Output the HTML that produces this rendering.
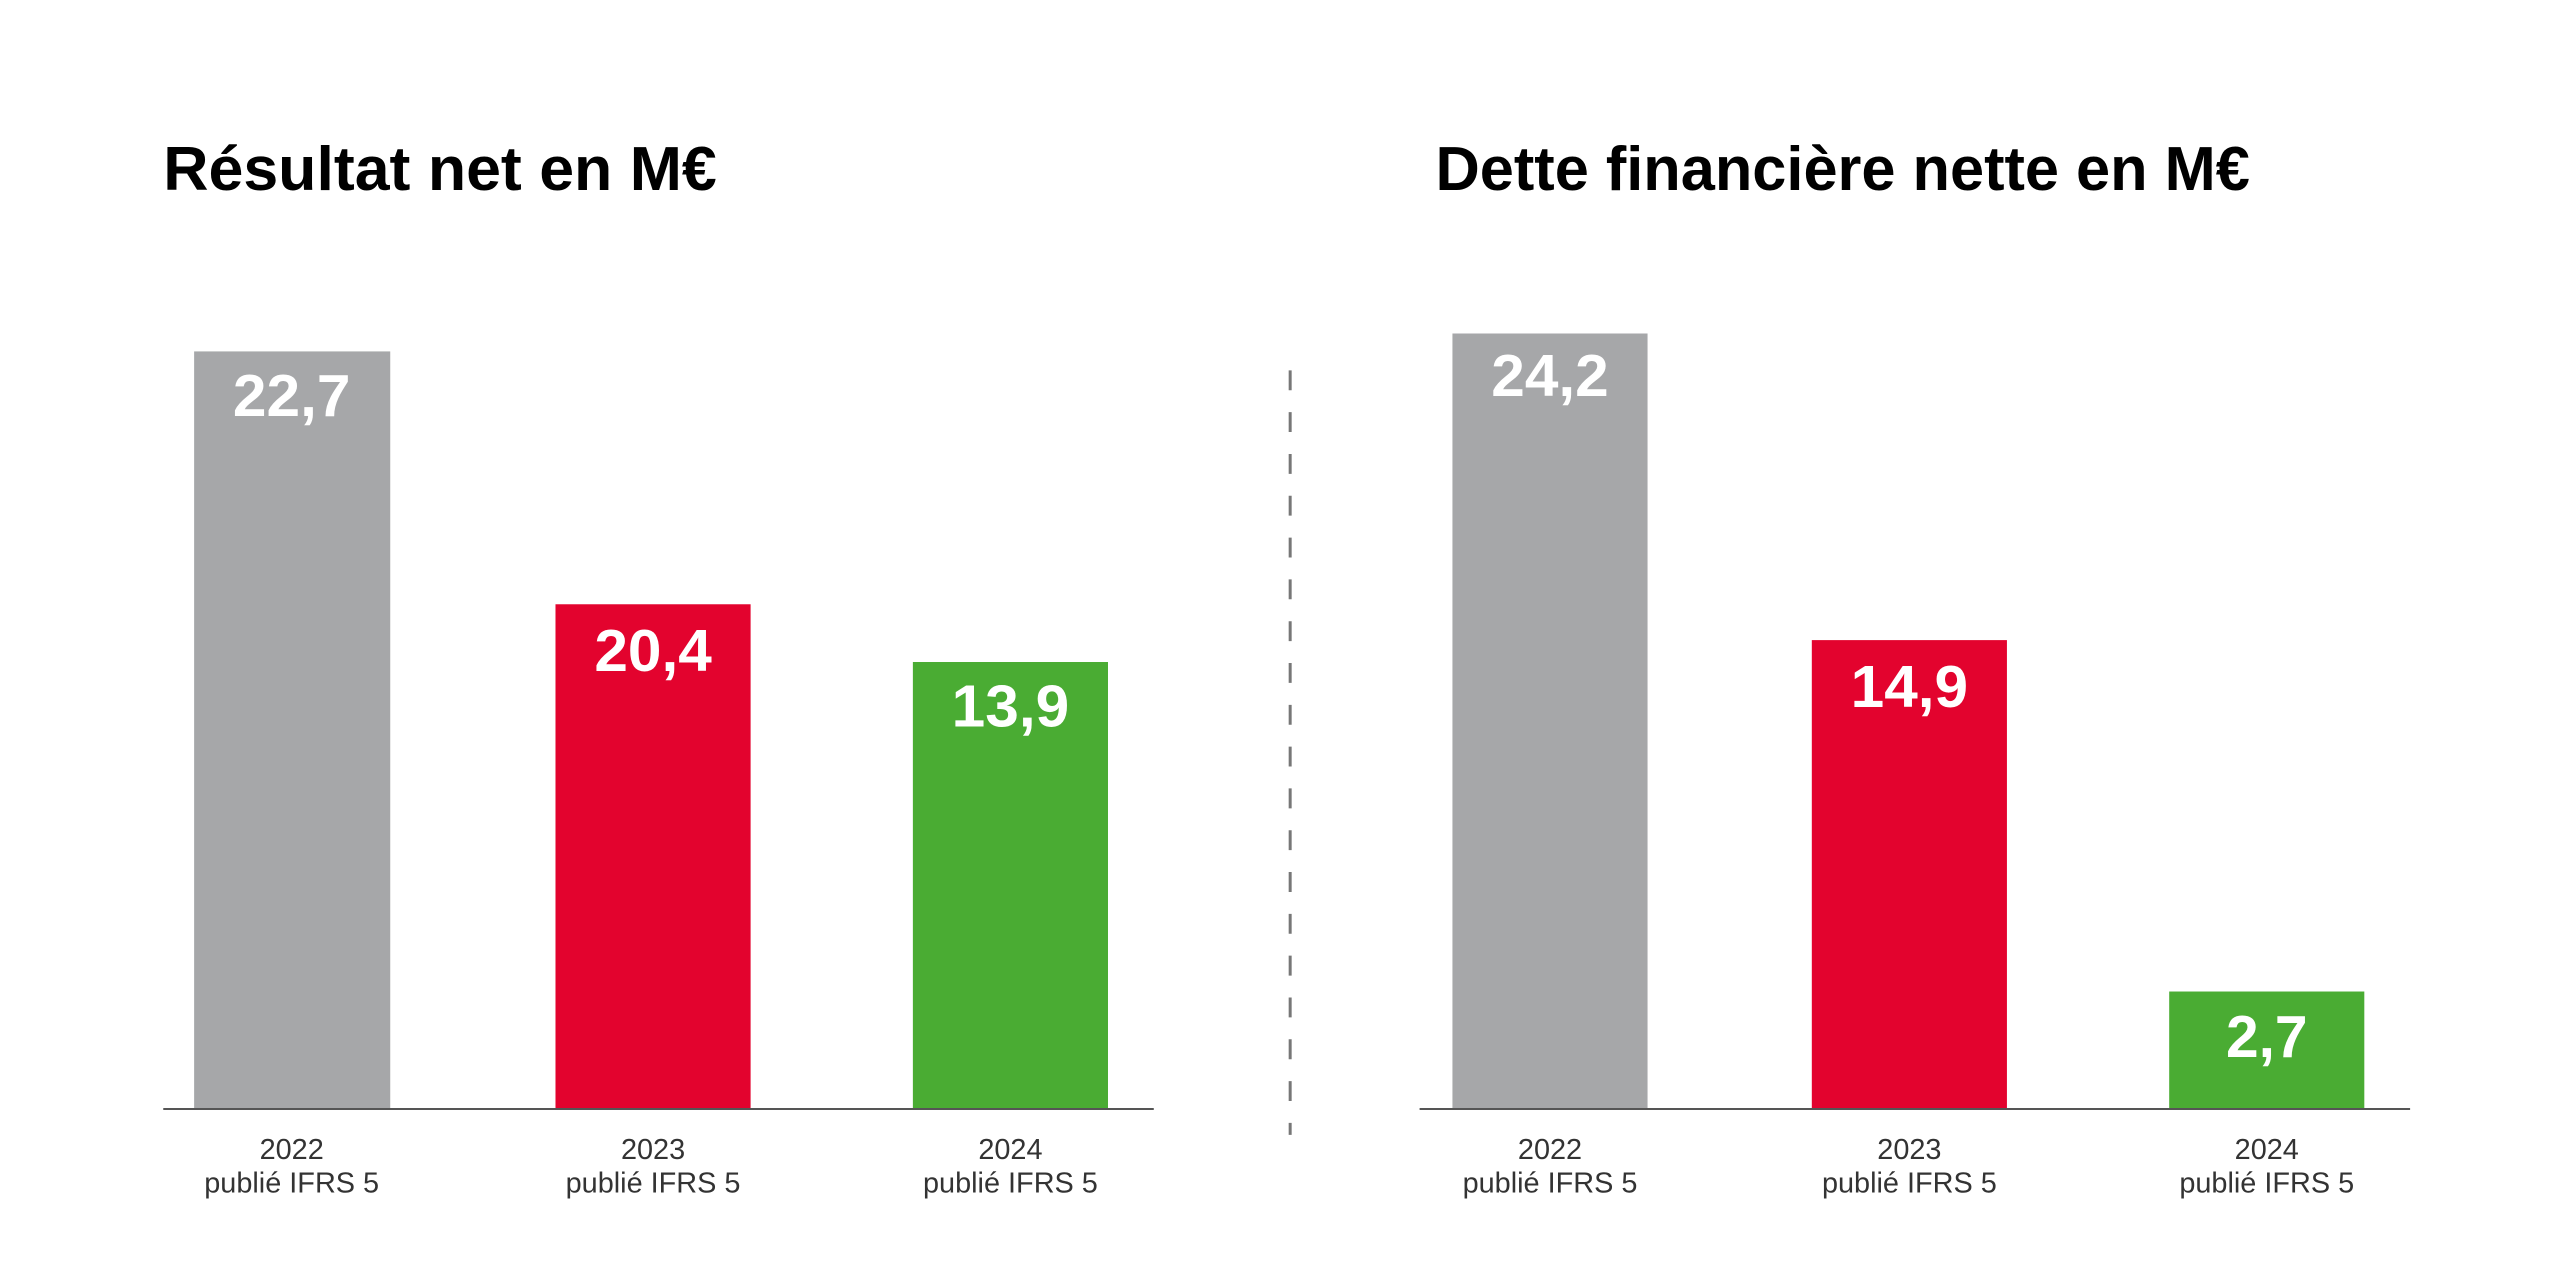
<!DOCTYPE html>
<html><head><meta charset="utf-8"><style>
html,body{margin:0;padding:0;background:#fff;width:2560px;height:1284px;overflow:hidden}
svg text{font-family:"Liberation Sans",sans-serif}
</style></head><body>
<svg width="2560" height="1284" viewBox="0 0 2560 1284" xmlns="http://www.w3.org/2000/svg">
<g transform="scale(0.9955)">
<g font-weight="bold" fill="#000" font-size="62">
<text x="164" y="191" textLength="556" lengthAdjust="spacingAndGlyphs">Résultat net en M€</text>
<text x="1442" y="191" textLength="818" lengthAdjust="spacingAndGlyphs">Dette financière nette en M€</text>
</g>
<line x1="1296" y1="372" x2="1296" y2="1140" stroke="#777" stroke-width="3" stroke-dasharray="20,22"/>
<rect x="195" y="353" width="197" height="761" fill="#a6a7a9"/>
<rect x="558" y="607" width="196" height="507" fill="#e3032e"/>
<rect x="917" y="665" width="196" height="449" fill="#4aac33"/>
<rect x="1459" y="335" width="196" height="779" fill="#a6a7a9"/>
<rect x="1820" y="643" width="196" height="471" fill="#e3032e"/>
<rect x="2179" y="996" width="196" height="118" fill="#4aac33"/>
<line x1="164" y1="1114" x2="1159" y2="1114" stroke="#555" stroke-width="2"/>
<line x1="1426" y1="1114" x2="2421" y2="1114" stroke="#555" stroke-width="2"/>
<g font-weight="bold" fill="#fff" font-size="60" text-anchor="middle">
<text x="293" y="418" textLength="118" lengthAdjust="spacingAndGlyphs">22,7</text>
<text x="656" y="674" textLength="118" lengthAdjust="spacingAndGlyphs">20,4</text>
<text x="1015" y="730" textLength="118" lengthAdjust="spacingAndGlyphs">13,9</text>
<text x="1557" y="398" textLength="118" lengthAdjust="spacingAndGlyphs">24,2</text>
<text x="1918" y="710" textLength="118" lengthAdjust="spacingAndGlyphs">14,9</text>
<text x="2277" y="1062" textLength="82" lengthAdjust="spacingAndGlyphs">2,7</text>
</g>
<g fill="#333" font-size="29" text-anchor="middle">
<text x="293" y="1164">2022</text><text x="293" y="1198">publié IFRS 5</text>
<text x="656" y="1164">2023</text><text x="656" y="1198">publié IFRS 5</text>
<text x="1015" y="1164">2024</text><text x="1015" y="1198">publié IFRS 5</text>
<text x="1557" y="1164">2022</text><text x="1557" y="1198">publié IFRS 5</text>
<text x="1918" y="1164">2023</text><text x="1918" y="1198">publié IFRS 5</text>
<text x="2277" y="1164">2024</text><text x="2277" y="1198">publié IFRS 5</text>
</g>
</g>
</svg>
</body></html>
